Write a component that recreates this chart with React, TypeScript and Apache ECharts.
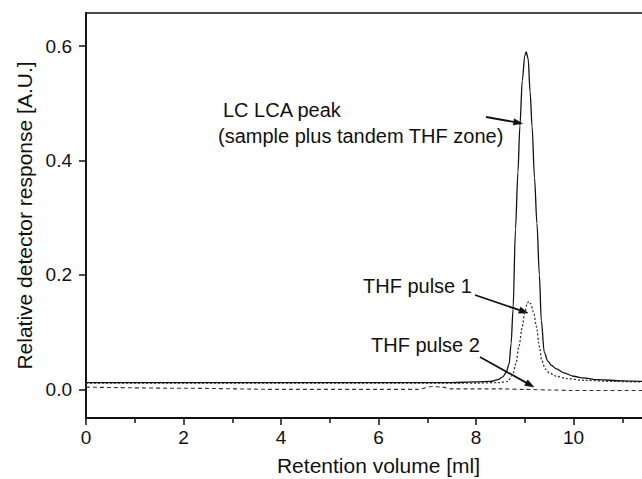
import React, { useEffect, useRef } from "react";
import * as echarts from "echarts";

// LC LCA peak (solid)
const solidX = [0, 1, 2, 3, 4, 5, 6, 7, 7.5, 8, 8.3, 8.45, 8.55, 8.62, 8.68, 8.72, 8.76, 8.81, 8.86, 8.9, 8.95, 9.0, 9.03, 9.07, 9.11, 9.15, 9.2, 9.25, 9.3, 9.34, 9.4, 9.47, 9.55, 9.65, 9.8, 10.0, 10.2, 10.5, 11, 11.5, 12];
const solidY = [0.012, 0.012, 0.012, 0.012, 0.012, 0.012, 0.012, 0.012, 0.012, 0.013, 0.014, 0.017, 0.022, 0.03, 0.045, 0.08, 0.14, 0.28, 0.38, 0.46, 0.54, 0.583, 0.59, 0.578, 0.52, 0.46, 0.37, 0.29, 0.2, 0.12, 0.065, 0.05, 0.042, 0.036, 0.029, 0.023, 0.02, 0.017, 0.015, 0.014, 0.013];

// THF pulse 1 (dotted)
const dottedX = [0, 2, 4, 6, 8, 8.5, 8.65, 8.75, 8.82, 8.88, 8.95, 9.0, 9.05, 9.08, 9.12, 9.18, 9.24, 9.3, 9.35, 9.42, 9.5, 9.65, 9.85, 10.2, 10.8, 11.5, 12];
const dottedY = [0.011, 0.011, 0.011, 0.011, 0.011, 0.012, 0.014, 0.025, 0.045, 0.075, 0.11, 0.135, 0.15, 0.154, 0.15, 0.135, 0.11, 0.075, 0.05, 0.036, 0.029, 0.023, 0.019, 0.016, 0.014, 0.013, 0.012];

// THF pulse 2 (dashed)
const dashedX = [0, 2, 4, 6, 6.8, 7.1, 7.3, 7.5, 8.5, 9, 9.5, 10, 12];
const dashedY = [0.004, 0.002, 0.0, 0.0, 0.0, 0.005, 0.004, 0.001, 0.001, 0.0, -0.001, -0.002, -0.002];

const xTickLabelValues = [0, 2, 4, 6, 8, 10];
const yTickValues = [0, 0.2, 0.4, 0.6];
const xAxisName = "Retention volume [ml]";
const yAxisName = "Relative detector response [A.U.]";

const FONT = '"Liberation Sans", Arial, Helvetica, sans-serif';
const INK = "#111";

const pairs = (xs: number[], ys: number[]) => xs.map((x, i) => [x, ys[i]]);

function arrow(x1: number, y1: number, x2: number, y2: number) {
  const dx = x2 - x1;
  const dy = y2 - y1;
  const len = Math.sqrt(dx * dx + dy * dy);
  const ux = dx / len;
  const uy = dy / len;
  const hl = 9;
  const hw = 3.2;
  const bx = x2 - ux * hl;
  const by = y2 - uy * hl;
  return [
    {
      type: "line",
      shape: { x1, y1, x2: bx, y2: by },
      style: { stroke: INK, lineWidth: 1.8 },
      silent: true,
    },
    {
      type: "polygon",
      shape: {
        points: [
          [x2, y2],
          [bx - uy * hw, by + ux * hw],
          [bx + uy * hw, by - ux * hw],
        ],
      },
      style: { fill: INK, stroke: INK, lineWidth: 0.5 },
      silent: true,
    },
  ];
}

function label(text: string, x: number, y: number) {
  return {
    type: "text",
    x,
    y,
    style: {
      text,
      fill: INK,
      fontSize: 20,
      fontFamily: FONT,
      align: "left",
      verticalAlign: "middle",
    },
    silent: true,
  };
}

export default function App() {
  const ref = useRef<HTMLDivElement>(null);

  useEffect(() => {
    if (!ref.current) return;
    const chart = echarts.init(ref.current, null, { renderer: "svg" });
    chart.setOption({
      animation: false,
      backgroundColor: "#fff",
      grid: {
        left: 86,
        top: 13,
        width: 585,
        height: 405,
        containLabel: false,
        outerBoundsMode: "none",
        show: true,
        borderColor: INK,
        borderWidth: 1.5,
        backgroundColor: "transparent",
      },
      xAxis: {
        type: "value",
        min: 0,
        max: 12,
        interval: 2,
        name: xAxisName,
        nameLocation: "middle",
        nameGap: 37,
        nameTextStyle: { fontSize: 21, fontFamily: FONT, color: INK },
        axisLine: { show: true, onZero: false, lineStyle: { color: INK, width: 1.8 } },
        axisTick: { show: true, inside: false, length: 7, lineStyle: { color: INK, width: 1.5 } },
        minorTick: { show: true, splitNumber: 2, length: 5, lineStyle: { color: INK, width: 1.5 } },
        axisLabel: {
          fontSize: 19,
          fontFamily: FONT,
          color: INK,
          margin: 10,
          customValues: xTickLabelValues,
        },
        splitLine: { show: false },
        minorSplitLine: { show: false },
      },
      yAxis: {
        type: "value",
        min: -0.05,
        max: 0.658,
        name: yAxisName,
        nameLocation: "middle",
        nameGap: 51,
        nameTextStyle: { fontSize: 21, fontFamily: FONT, color: INK },
        axisLine: { show: true, onZero: false, lineStyle: { color: INK, width: 1.8 } },
        axisTick: {
          show: true,
          inside: false,
          length: 7,
          customValues: yTickValues,
          lineStyle: { color: INK, width: 1.5 },
        },
        axisLabel: {
          fontSize: 19,
          fontFamily: FONT,
          color: INK,
          margin: 14,
          customValues: yTickValues,
          formatter: (v: number) => v.toFixed(1),
        },
        splitLine: { show: false },
      },
      series: [
        {
          name: "LC LCA peak",
          type: "line",
          data: pairs(solidX, solidY),
          showSymbol: false,
          smooth: 0.3,
          smoothMonotone: "x",
          lineStyle: { color: INK, width: 1.3, type: "solid" },
          z: 3,
        },
        {
          name: "THF pulse 1",
          type: "line",
          data: pairs(dottedX, dottedY),
          showSymbol: false,
          smooth: 0.3,
          smoothMonotone: "x",
          lineStyle: { color: "#333", width: 1.3, type: [2, 2] },
          z: 2,
        },
        {
          name: "THF pulse 2",
          type: "line",
          data: pairs(dashedX, dashedY),
          showSymbol: false,
          smooth: 0.3,
          smoothMonotone: "x",
          lineStyle: { color: "#333", width: 1.1, type: [4, 3] },
          z: 2,
        },
      ],
      graphic: [
        label("LC LCA peak", 223, 110),
        label("(sample plus tandem THF zone)", 218, 136),
        label("THF pulse 1", 363, 286),
        label("THF pulse 2", 371, 345),
        ...arrow(486, 117, 522.5, 123.5),
        ...arrow(475, 295, 528, 313),
        ...arrow(480, 357, 534, 387),
      ],
    });
    return () => chart.dispose();
  }, []);

  return (
    <div
      ref={ref}
      style={{ position: "fixed", left: 0, top: 0, width: 642, height: 479, overflow: "hidden", background: "#fff" }}
    />
  );
}
